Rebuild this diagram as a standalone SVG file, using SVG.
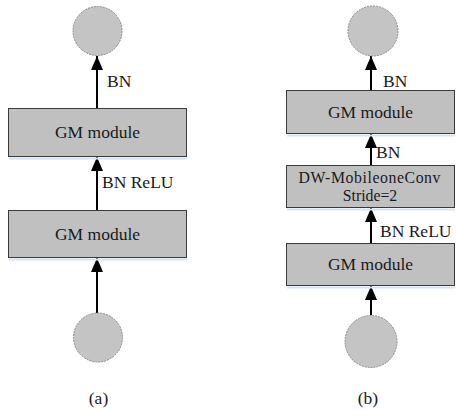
<svg xmlns="http://www.w3.org/2000/svg" width="456" height="410" viewBox="0 0 456 410">
<defs>
<style>
.box{fill:#c0c0c0;stroke:#3a3a3a;stroke-width:1}
.shadow{fill:none;stroke:#d6e4f2;stroke-width:2}
.circ{fill:#c4c4c4;stroke:#8a8a8a;stroke-width:1;stroke-dasharray:2 1}
.t{font-family:"Liberation Serif","Times New Roman",serif;font-size:17.5px;fill:#1a1a1a}
.s{font-size:15.8px}
.c{text-anchor:middle}
.edge{stroke:#000;stroke-width:2;fill:none;marker-end:url(#ah)}
</style>
<marker id="ah" markerUnits="userSpaceOnUse" viewBox="0 0 14 12" refX="14" refY="6" markerWidth="14" markerHeight="12" orient="auto">
<path d="M0,0 L14,6 L0,12 Z" fill="#000"/>
</marker>
</defs>
<rect width="456" height="410" fill="#fff"/>

<g id="edges">
<line class="edge" x1="97" y1="108" x2="97" y2="56"/>
<line class="edge" x1="97" y1="210" x2="97" y2="157"/>
<line class="edge" x1="97" y1="313" x2="97" y2="258"/>
<line class="edge" x1="371" y1="90" x2="371" y2="56"/>
<line class="edge" x1="371" y1="165" x2="371" y2="134"/>
<line class="edge" x1="371" y1="243" x2="371" y2="208"/>
<line class="edge" x1="371" y1="315" x2="371" y2="286"/>
</g>

<g id="edge-labels">
<text class="t" x="107" y="87">BN</text>
<text class="t" x="102" y="188">BN ReLU</text>
<text class="t" x="383" y="87">BN</text>
<text class="t" x="376" y="158">BN</text>
<text class="t" x="380" y="237">BN ReLU</text>
</g>

<g id="a-top">
<circle class="circ" cx="97.5" cy="31" r="24.5"/>
</g>
<g id="a-gm1">
<line class="shadow" x1="9" y1="158.5" x2="187" y2="158.5"/>
<rect class="box" x="8.5" y="108.5" width="178" height="48"/>
<text class="t c" x="97.5" y="138">GM module</text>
</g>
<g id="a-gm2">
<line class="shadow" x1="9" y1="259.5" x2="187" y2="259.5"/>
<rect class="box" x="8.5" y="210.5" width="178" height="47"/>
<text class="t c" x="97.5" y="240">GM module</text>
</g>
<g id="a-bottom">
<circle class="circ" cx="98" cy="337.5" r="24.5"/>
</g>
<g id="a-label">
<text class="t c" x="98.5" y="404">(a)</text>
</g>

<g id="b-top">
<circle class="circ" cx="373" cy="31" r="25"/>
</g>
<g id="b-gm1">
<line class="shadow" x1="287" y1="135.5" x2="455" y2="135.5"/>
<rect class="box" x="286.5" y="90.5" width="168" height="43"/>
<text class="t c" x="370.5" y="118">GM module</text>
</g>
<g id="b-dw">
<line class="shadow" x1="287" y1="209.5" x2="455" y2="209.5"/>
<rect class="box" x="286.5" y="165.5" width="168" height="42"/>
<text class="t s c" x="369.5" y="183" textLength="142" lengthAdjust="spacing">DW-MobileoneConv</text>
<text class="t s c" x="370" y="200.5">Stride=2</text>
</g>
<g id="b-gm2">
<line class="shadow" x1="287" y1="287.5" x2="455" y2="287.5"/>
<rect class="box" x="286.5" y="243.5" width="168" height="42"/>
<text class="t c" x="370.5" y="270">GM module</text>
</g>
<g id="b-bottom">
<circle class="circ" cx="371" cy="341.5" r="26"/>
</g>
<g id="b-label">
<text class="t c" x="368" y="404">(b)</text>
</g>
</svg>
